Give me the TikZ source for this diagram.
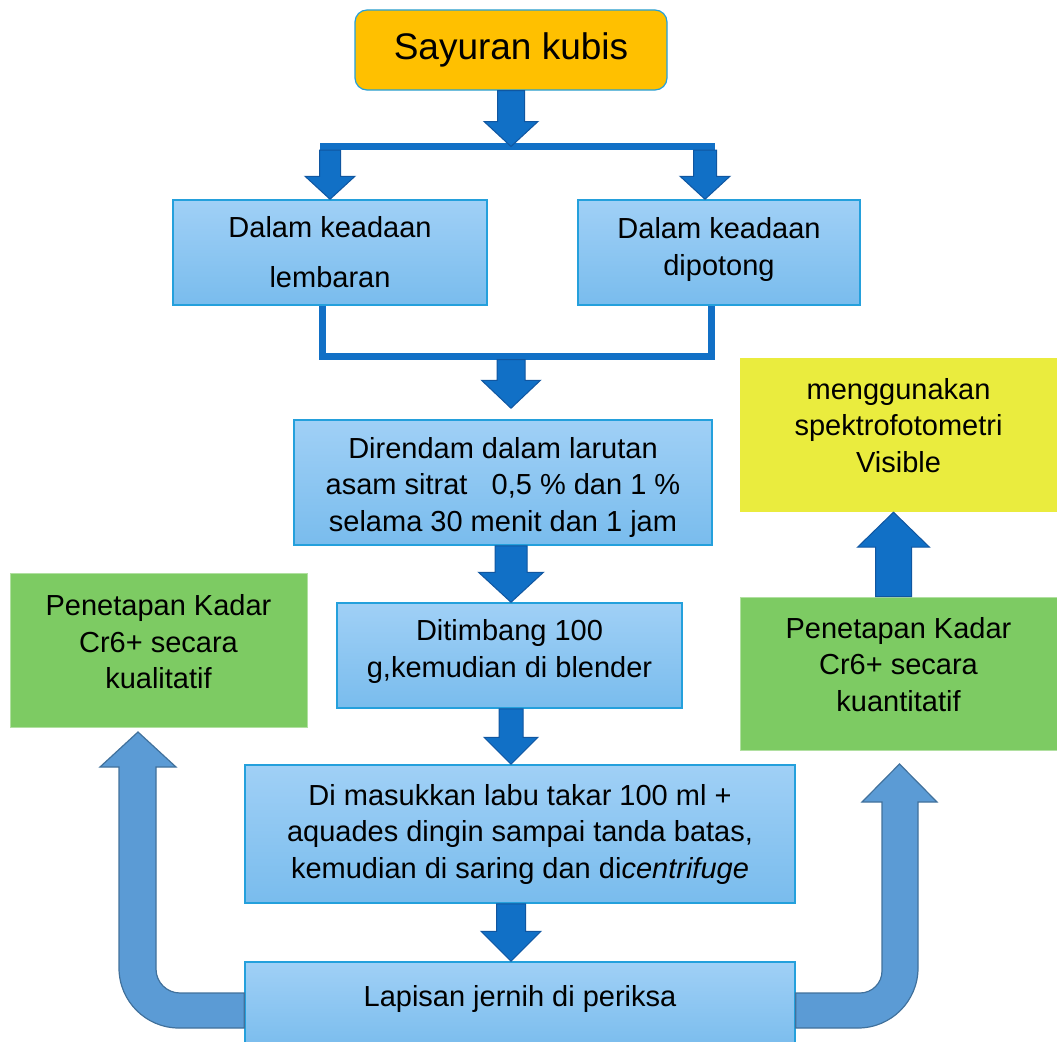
\documentclass[tikz,border=0pt]{standalone}
\usepackage{fontspec}
\setmainfont{Liberation Sans}
\usetikzlibrary{calc}

\definecolor{edgeblue}{RGB}{36,160,220}
\definecolor{boxtop}{RGB}{160,208,246}
\definecolor{boxbot}{RGB}{121,188,237}
\definecolor{kubisfill}{RGB}{255,192,0}
\definecolor{flowblue}{RGB}{17,112,198}
\definecolor{flowedge}{RGB}{16,86,160}
\definecolor{bentblue}{RGB}{91,155,213}
\definecolor{bentedge}{RGB}{65,113,156}
\definecolor{leafgreen}{RGB}{125,203,99}
\definecolor{lemon}{RGB}{234,236,62}

% text set a little off the middle of its box
\newcommand{\liftup}[2]{\raisebox{0pt}[\height][\dimexpr\depth+#1\relax]{\begin{tabular}{@{}c@{}}#2\end{tabular}}}
% block arrow: start, tip, shaft half width, head half width, head length
\newcommand{\fatarrow}[5]{%
  \coordinate (fa) at #1;
  \coordinate (fb) at #2;
  \coordinate (fc) at ($(fb)!#5!(fa)$);
  \draw[fatline] ($(fa)!#3!90:(fb)$) -- ($(fc)!#3!90:(fb)$) -- ($(fc)!#4!90:(fb)$) -- (fb)
    -- ($(fc)!#4!-90:(fb)$) -- ($(fc)!#3!-90:(fb)$) -- ($(fa)!#3!-90:(fb)$) -- cycle;}

\begin{document}
\begin{tikzpicture} [
  x=1pt, y=-1pt,
  stepbox/.style={
    draw=edgeblue, line width=1.5pt, top color=boxtop, bottom color=boxbot,
    inner sep=0pt, align=center, font=\fontsize{29}{36.5}\selectfont
  },
  startbox/.style={draw=edgeblue, line width=1.2pt, fill=kubisfill, rounded corners=12pt,
    minimum width=312, minimum height=80, font=\fontsize{37}{44}\selectfont},
  resultbox/.style={
    draw=leafgreen!60!white, line width=1pt, fill=leafgreen, inner sep=0pt,
    font=\fontsize{29}{36.5}\selectfont},
  notebox/.style={fill=lemon, inner sep=0pt, font=\fontsize{29}{36.5}\selectfont},
  fatline/.style={fill=flowblue, draw=flowedge, line width=1pt},
  bentline/.style={fill=bentblue, draw=bentedge, line width=1.2pt},
  bar/.style={draw=flowblue, line width=7pt}
  ]
  \useasboundingbox (0,0) rectangle (1057,1041);

  \node (kubis) [startbox] at (511,50) {Sayuran kubis};
  \node (lembar) [stepbox, minimum width=314, minimum height=105] at (330,252.5) {Dalam keadaan\\[13.5pt]lembaran};
  \node (potong) [stepbox, minimum width=282, minimum height=105] at (719,252.5) {\liftup{6pt}{Dalam keadaan\\dipotong}};
  \node (rendam) [stepbox, minimum width=418, minimum height=125] at (503,482.5) {\liftup{-10pt}{Direndam dalam larutan\\asam sitrat\ \ \ 0,5 \% dan 1 \%\\selama 30 menit dan 1 jam}};
  \node (timbang) [stepbox, minimum width=345, minimum height=105] at (509.5,655.5) {\liftup{8pt}{Ditimbang 100\\g,kemudian di blender}};
  \node (masuk) [stepbox, minimum width=550, minimum height=138] at (520,834) {Di masukkan labu takar 100 ml +\\aquades dingin sampai tanda batas,\\kemudian di saring dan di\textit{centrifuge}};
  \node (lapis) [stepbox, minimum width=550, minimum height=88] at (520,1006) {\liftup{14pt}{Lapisan jernih di periksa}};
  \node (kuali) [resultbox, minimum width=297, minimum height=154] at (158.5,650) {\liftup{10pt}{Penetapan Kadar\\Cr6+ secara\\kualitatif}};
  \node (kuanti) [resultbox, minimum width=317, minimum height=153] at (898.5,673.5) {\liftup{12pt}{Penetapan Kadar\\Cr6+ secara\\kuantitatif}};
  \node (visible) [notebox, minimum width=317, minimum height=154] at (898.5,435) {\liftup{13pt}{menggunakan\\spektrofotometri\\Visible}};

  % branching and joining bars
  \coordinate (split) at (kubis.south |- 0,146.5);
  \coordinate (splitL) at (lembar.north |- split);
  \coordinate (splitR) at ($(potong.north |- split)+(-14,0)$);
  \coordinate (joint) at (kubis.south |- 0,356);
  \draw[bar] ($(splitL)+(-10,0)$) -- ($(splitR)+(10,0)$);
  \draw[bar] ($(lembar.south)+(-7.5,0)$) |- (joint) -| ($(potong.south)+(-8,0)$);

  \fatarrow{(kubis.south)}{(split)}{13.5pt}{27pt}{25pt}
  \fatarrow{($(splitL)+(0,3.5)$)}{(lembar.north)}{10.5pt}{25pt}{23pt}
  \fatarrow{($(splitR)+(0,3.5)$)}{(potong.north -| splitR)}{11.5pt}{25pt}{23pt}
  \fatarrow{($(joint)+(0,3.5)$)}{($(kubis.south |- rendam.north)+(0,-11)$)}{14pt}{29.5pt}{28pt}
  \fatarrow{(kubis.south |- rendam.south)}{(kubis.south |- timbang.north)}{16pt}{32.5pt}{30pt}
  \fatarrow{(kubis.south |- timbang.south)}{(kubis.south |- masuk.north)}{12pt}{27pt}{27pt}
  \fatarrow{(kubis.south |- masuk.south)}{(kubis.south |- lapis.north)}{14.5pt}{30pt}{30pt}
  \fatarrow{($(kuanti.north)+(-5,0)$)}{($(kuanti.north |- visible.south)+(-5,0)$)}{18pt}{36pt}{35pt}

  % bent arrows out of the last step
  \draw[bentline] (lapis.west |- 0,993) -- (180,993) arc[start angle=90, end angle=180, radius=24]
    -- (156,767) -- (176,767) -- (138,732) -- (100,767) -- (119,767)
    -- (119,968) arc[start angle=180, end angle=90, radius=60] -- (lapis.west |- 0,1028) -- cycle;
  \draw[bentline] (lapis.east |- 0,993) -- (860,993) arc[start angle=90, end angle=0, radius=22]
    -- (882,802) -- (862,802) -- (899.5,764) -- (937,802) -- (918,802)
    -- (918,968) arc[start angle=0, end angle=90, radius=60] -- (lapis.east |- 0,1028) -- cycle;
\end{tikzpicture}
\end{document}
